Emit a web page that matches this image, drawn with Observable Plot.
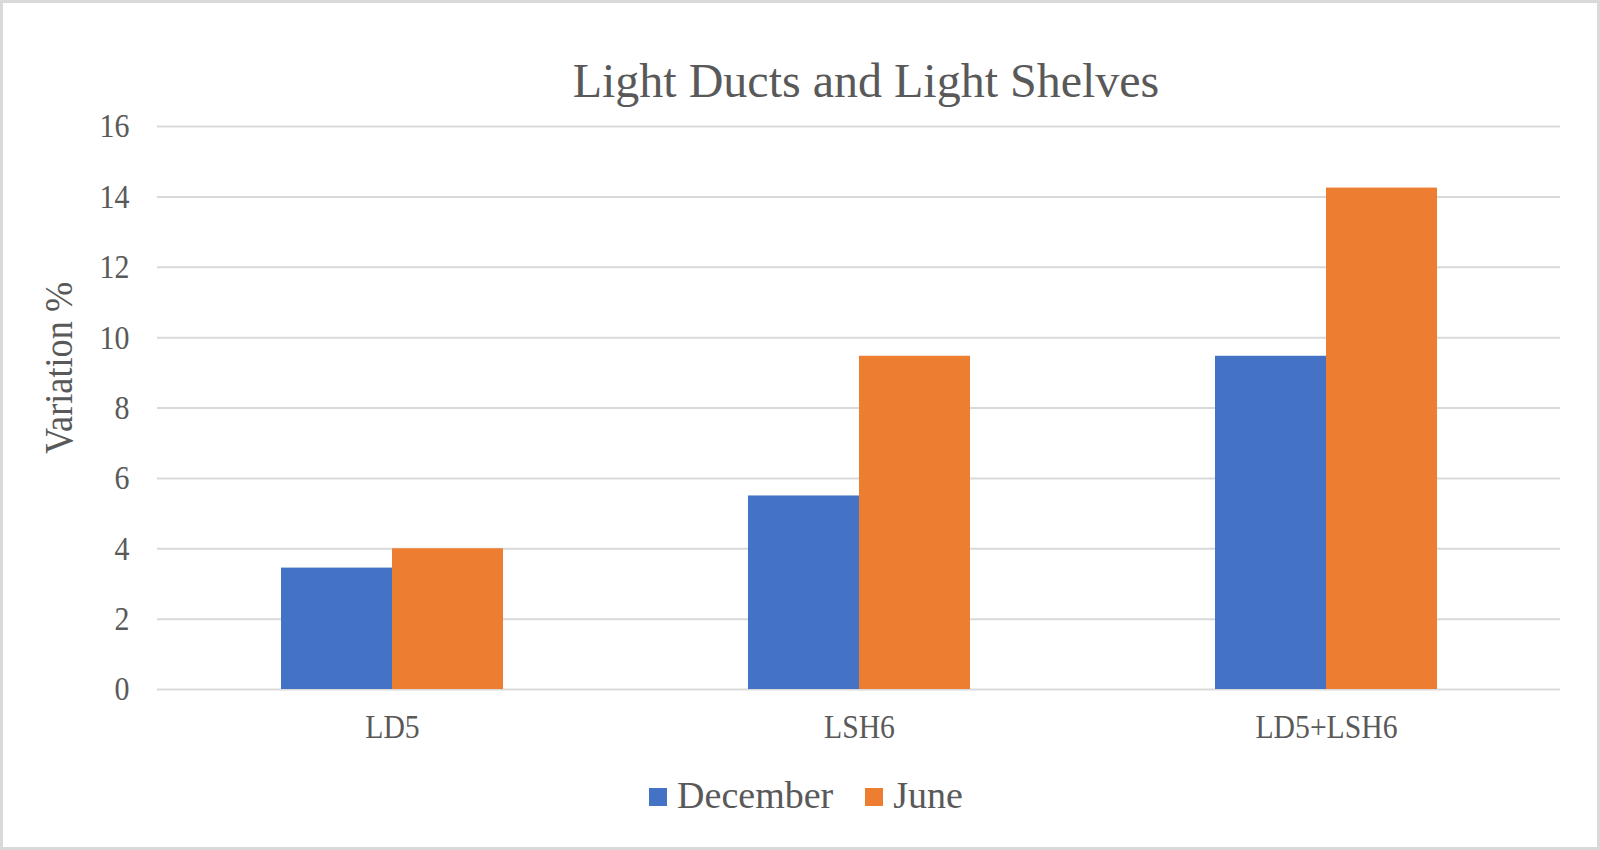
<!DOCTYPE html>
<html>
<head>
<meta charset="utf-8">
<script src="https://cdn.jsdelivr.net/npm/d3@7"></script>
<script src="https://cdn.jsdelivr.net/npm/@observablehq/plot@0.6"></script>
<style>
  html, body { margin: 0; padding: 0; background: #fff; }
  #chart { position: relative; width: 1600px; height: 850px; background: #fff; overflow: hidden;
           font-family: "Liberation Serif", "Times New Roman", serif; color: #595959; }
  #frame { position: absolute; left: 0; top: 0; width: 1600px; height: 850px; box-sizing: border-box;
           border: 3px solid #d9d9d9; pointer-events: none; }
  .layer { position: absolute; left: 0; top: 0; }
  #title { position: absolute; left: 866px; top: 57px; transform: translateX(-50%);
           font-size: 48px; line-height: 48px; white-space: nowrap; }
  #ylabel { position: absolute; left: 58px; top: 368px; transform: translate(-50%, -50%) rotate(-90deg) scaleX(0.93);
            font-size: 39px; line-height: 39px; white-space: nowrap; }
  #legend { position: absolute; left: 0; top: 776px; width: 1612px; display: flex; justify-content: center;
            align-items: center; font-size: 38px; line-height: 38px; }
  .item { display: flex; align-items: center; margin: 0 16px; }
  .sw { width: 18px; height: 18px; margin-right: 10px; position: relative; top: 2px; }
</style>
</head>
<body>
<div id="chart">
  <div id="title">Light Ducts and Light Shelves</div>
  <div id="ylabel">Variation %</div>
  <div id="grid" class="layer"></div>
  <div id="bars" class="layer"></div>
  <div id="legend"></div>
  <div id="frame"></div>
</div>
<script>
const categories = ["LD5", "LSH6", "LD5+LSH6"];
const seriesNames = ["December", "June"];
const december = [3.45, 5.5, 9.47];
const june = [4.0, 9.47, 14.25];
const yTicks = [0, 2, 4, 6, 8, 10, 12, 14, 16];
const colors = ["#4472C4", "#ED7D31"];

const data = [];
categories.forEach((c, i) => {
  data.push({category: c, series: "December", value: december[i]});
  data.push({category: c, series: "June", value: june[i]});
});

const W = 1600, H = 760;
const margins = {marginTop: 126, marginLeft: 157, marginRight: 40, marginBottom: 71};
const font = '"Liberation Serif", "Times New Roman", serif';

const gridPlot = Plot.plot({
  width: W, height: H, ...margins,
  style: {background: "transparent", fontFamily: font, fontSize: "34px", color: "#595959"},
  x: {axis: null},
  y: {domain: [0, 16], ticks: yTicks, label: null},
  marks: [
    Plot.gridY(yTicks, {stroke: "#d9d9d9", strokeOpacity: 1, strokeWidth: 2}),
    Plot.axisY(yTicks, {tickSize: 0, tickPadding: 28, label: null, fill: "#595959"})
  ]
});
document.getElementById("grid").appendChild(gridPlot);

const barPlot = Plot.plot({
  width: W, height: H, ...margins,
  style: {background: "transparent", fontFamily: font, fontSize: "33px", color: "#595959"},
  fx: {domain: categories, paddingInner: 0.525, paddingOuter: 0.2625, label: null, axis: "bottom",
       tickSize: 0, tickPadding: 25},
  x: {domain: seriesNames, padding: 0, axis: null},
  y: {domain: [0, 16], axis: null},
  color: {domain: seriesNames, range: colors},
  marks: [
    Plot.barY(data, {fx: "category", x: "series", y: "value", fill: "series", inset: 0})
  ]
});
document.getElementById("bars").appendChild(barPlot);

// slightly narrower tick-label glyphs, as in the reference
function condense(svg, k) {
  svg.querySelectorAll("text").forEach(t => {
    const b = t.getBBox();
    const anchor = t.getAttribute("text-anchor") || getComputedStyle(t).textAnchor ||
                   (t.parentNode && t.parentNode.getAttribute && t.parentNode.getAttribute("text-anchor"));
    let ax = b.x + b.width / 2;
    if (anchor === "end") ax = b.x + b.width;
    else if (anchor === "start") ax = b.x;
    const prev = t.getAttribute("transform") || "";
    t.setAttribute("transform", `${prev} translate(${ax},0) scale(${k},1) translate(${-ax},0)`);
  });
}
condense(gridPlot, 0.88);
condense(barPlot, 0.9);

const legend = document.getElementById("legend");
seriesNames.forEach((s, i) => {
  const item = document.createElement("div");
  item.className = "item";
  const sw = document.createElement("div");
  sw.className = "sw";
  sw.style.background = colors[i];
  const t = document.createElement("span");
  t.textContent = s;
  item.appendChild(sw);
  item.appendChild(t);
  legend.appendChild(item);
});
</script>
</body>
</html>
